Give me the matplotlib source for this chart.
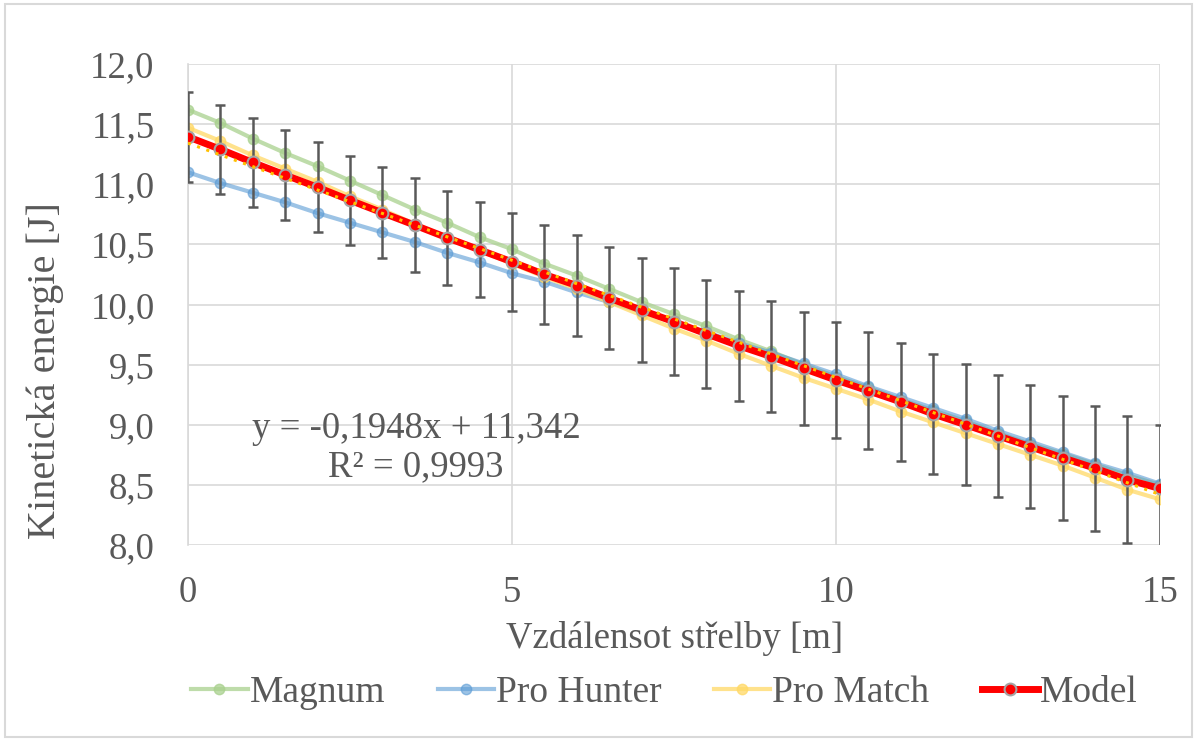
import matplotlib
matplotlib.use("Agg")
import matplotlib.pyplot as plt
from matplotlib.patches import Rectangle
from matplotlib.ticker import FuncFormatter

plt.rcParams['font.family'] = ['Liberation Serif', 'DejaVu Serif']

# Shooting distance [m]
distance = [0, 0.5, 1, 1.5, 2, 2.5, 3, 3.5, 4, 4.5, 5, 5.5, 6, 6.5, 7, 7.5,
            8, 8.5, 9, 9.5, 10, 10.5, 11, 11.5, 12, 12.5, 13, 13.5, 14, 14.5, 15]

# Kinetic energy [J] per pellet type
magnum = [11.62, 11.51, 11.38, 11.26, 11.15, 11.03, 10.91, 10.79, 10.68, 10.56,
          10.46, 10.34, 10.24, 10.13, 10.02, 9.92, 9.82, 9.71, 9.61, 9.50,
          9.40, 9.31, 9.21, 9.12, 9.03, 8.93, 8.84, 8.76, 8.67, 8.58, 8.50]
pro_hunter = [11.10, 11.01, 10.93, 10.85, 10.76, 10.68, 10.60, 10.52, 10.43, 10.35,
              10.26, 10.19, 10.10, 10.02, 9.94, 9.85, 9.77, 9.68, 9.60, 9.51,
              9.42, 9.32, 9.23, 9.14, 9.05, 8.95, 8.86, 8.77, 8.68, 8.60, 8.51]
pro_match = [11.47, 11.36, 11.24, 11.13, 11.02, 10.90, 10.79, 10.67, 10.56, 10.45,
             10.34, 10.23, 10.13, 10.02, 9.91, 9.80, 9.70, 9.59, 9.49, 9.39,
             9.30, 9.21, 9.11, 9.02, 8.93, 8.84, 8.75, 8.66, 8.56, 8.46, 8.38]
model = [11.395, 11.291, 11.181, 11.077, 10.975, 10.867, 10.763, 10.660, 10.555, 10.455,
         10.355, 10.250, 10.158, 10.054, 9.953, 9.857, 9.756, 9.657, 9.567, 9.468,
         9.372, 9.282, 9.190, 9.090, 9.000, 8.908, 8.817, 8.725, 8.638, 8.543, 8.470]
model_err = [0.374, 0.368, 0.368, 0.374, 0.374, 0.372, 0.378, 0.389, 0.393, 0.395,
             0.409, 0.410, 0.417, 0.427, 0.431, 0.443, 0.447, 0.457, 0.464, 0.470,
             0.482, 0.486, 0.491, 0.497, 0.503, 0.506, 0.511, 0.517, 0.521, 0.530, 0.532]

# Linear trendline of the model
trend_slope = -0.1948
trend_intercept = 11.342
trend_r2 = 0.9993

x_ticks = [0, 5, 10, 15]
y_ticks = [8.0, 8.5, 9.0, 9.5, 10.0, 10.5, 11.0, 11.5, 12.0]

text_color = '#595959'
grid_color = '#D9D9D9'

fig = plt.figure(figsize=(11.97, 7.40), dpi=100)
ax = fig.add_axes([0.157, 0.2635, 0.812, 0.65])

ax.plot(distance, magnum, color='#A9D18E', lw=3.0, marker='o', ms=7.5,
        alpha=0.75, label='Magnum', zorder=3)
ax.plot(distance, pro_hunter, color='#5B9BD5', lw=3.0, marker='o', ms=7.5,
        alpha=0.6, label='Pro Hunter', zorder=3)
ax.plot(distance, pro_match, color='#FFD966', lw=3.0, marker='o', ms=7.5,
        alpha=0.75, label='Pro Match', zorder=3)

ax.errorbar(distance, model, yerr=model_err, fmt='none', ecolor='#595959',
            elinewidth=1.8, capsize=3.8, capthick=1.8, zorder=4)
ax.plot(distance, model, color='#FF0000', lw=5.0, marker='o', ms=8.5,
        markerfacecolor='#FF0000', markeredgecolor='#A5A5A5', markeredgewidth=1.5,
        label='Model', zorder=5)

trend_x = [distance[0], distance[-1]]
trend_y = [trend_intercept + trend_slope * v for v in trend_x]
ax.plot(trend_x, trend_y, color='#FFC000', lw=2.2, linestyle=(0, (1, 2.2)), zorder=6)

ax.text(3.52, 8.97, 'y = -0,1948x + 11,342', ha='center', va='center',
        fontsize=26.5, color=text_color, zorder=7)
ax.text(3.52, 8.65, f'R² = {trend_r2:.4f}'.replace('.', ','), ha='center', va='center',
        fontsize=26.5, color=text_color, zorder=7)

ax.set_xlim(0, 15)
ax.set_ylim(8.0, 12.0)
ax.set_xticks(x_ticks)
ax.set_yticks(y_ticks)
ax.yaxis.set_major_formatter(FuncFormatter(lambda v, p: f'{v:.1f}'.replace('.', ',')))
ax.tick_params(axis='both', length=0, labelsize=26.5, labelcolor=text_color)
ax.tick_params(axis='y', pad=24)
ax.tick_params(axis='x', pad=22)
ax.grid(True, color=grid_color, lw=1.2)
ax.set_axisbelow(True)
for side in ['top', 'right', 'bottom']:
    ax.spines[side].set_visible(False)
ax.spines['left'].set_color(grid_color)
ax.spines['left'].set_linewidth(1.2)

ax.set_xlabel('Vzdálensot střelby [m]', fontsize=26.5, color=text_color)
ax.xaxis.set_label_coords(0.501, -0.158)
ax.set_ylabel('Kinetická energie [J]', fontsize=29, color=text_color)
ax.yaxis.set_label_coords(-0.128, 0.362)

leg = fig.legend(loc='center', bbox_to_anchor=(0.555, 0.0635), ncol=4, frameon=False,
                 fontsize=27, handlelength=1.5, handletextpad=0.05, columnspacing=1.4,
                 labelcolor=text_color)

fig.patches.append(Rectangle((0.004, 0.004), 0.992, 0.99, transform=fig.transFigure,
                             fill=False, edgecolor=grid_color, lw=1.5))

fig.savefig('out.png', dpi=100, facecolor='white')
